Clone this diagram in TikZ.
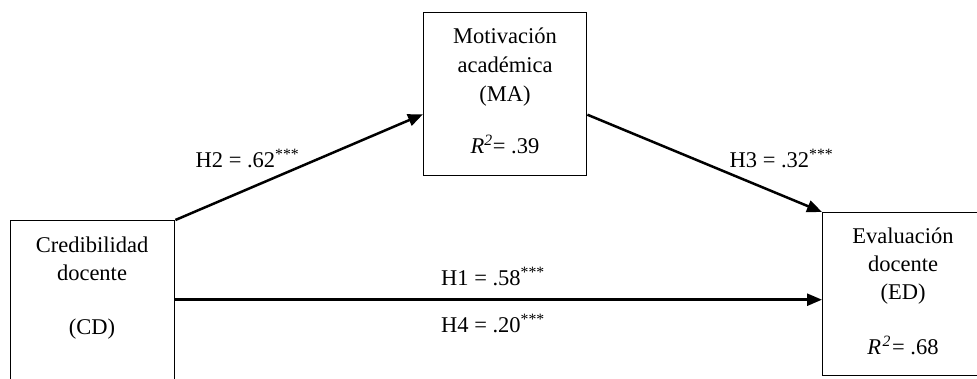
\documentclass[tikz,border=0pt]{standalone}
\usepackage{fontspec}
\setmainfont{Liberation Serif}
\usetikzlibrary{arrows.meta}
\begin{document}
\begin{tikzpicture}[x=1pt,y=-1pt,
  box/.style={draw,line width=1.4pt,rectangle,inner sep=0pt,anchor=north west},
  txt/.style={anchor=base,inner sep=0pt,font=\fontsize{22.5}{29}\selectfont},
  conn/.style={line width=2.5pt,-{Triangle[length=15pt,width=12pt]}}]
\useasboundingbox (0,0) rectangle (977,378);
\clip (0,0) rectangle (977,378);
% boxes
\node[box,minimum width=164pt,minimum height=190pt] (cd) at (10,220) {};
\node[box,minimum width=163pt,minimum height=163pt] (ma) at (423,12) {};
\node[box,minimum width=170pt,minimum height=163pt] (ed) at (822,212) {};
% box texts
\node[txt] (cd1) at (92,252) {Credibilidad};
\node[txt] (cd2) at (92,280.5) {docente};
\node[txt] (cd3) at (92,334) {(CD)};
\node[txt] (ma1) at (505,43) {Motivación};
\node[txt] (ma2) at (505,72.5) {académica};
\node[txt] (ma3) at (505,101) {(MA)};
\node[txt] (ma4) at (505,153) {\textit{R}\textsuperscript{\textit{2}}= .39};
\node[txt] (ed1) at (903,243) {Evaluación};
\node[txt] (ed2) at (903,271.5) {docente};
\node[txt] (ed3) at (903,299.5) {(ED)};
\node[txt] (ed4) at (903,354) {\textit{R}\kern1.5pt\textsuperscript{\textit{2}}\kern1pt= .68};
% connectors
\draw[conn] (cd.north east) -- ([yshift=-20pt]ma.west);
\draw[conn] ([yshift=-20.5pt]ma.east) -- (ed.north west);
\draw[conn] ([yshift=16pt]cd.east) -- ([yshift=-5.5pt]ed.west);
% labels
\node[txt] (h2) at (247.5,167) {H2 = .62\textsuperscript{***}};
\node[txt] (h3) at (781.5,167) {H3 = .32\textsuperscript{***}};
\node[txt] (h1) at (493,285) {H1 = .58\textsuperscript{***}};
\node[txt] (h4) at (493,332) {H4 = .20\textsuperscript{***}};
\end{tikzpicture}
\end{document}
